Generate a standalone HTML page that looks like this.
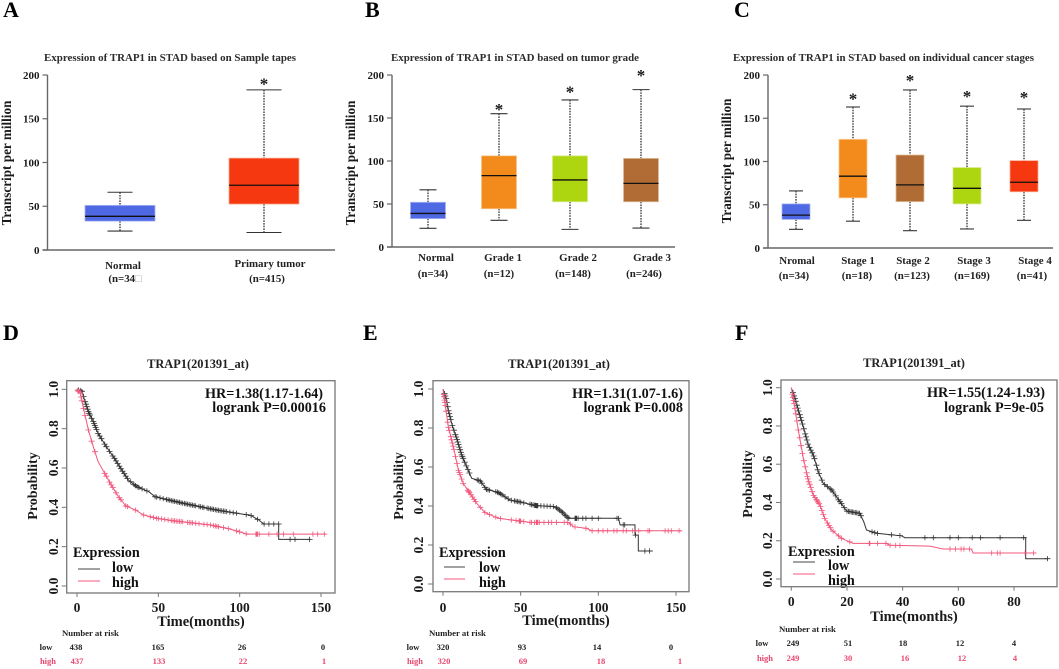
<!DOCTYPE html>
<html lang="en">
<head>
<meta charset="utf-8">
<title>TRAP1 expression and survival in STAD</title>
<style>
html,body{margin:0;padding:0;background:#fff;}
svg{display:block;filter:blur(0.3px);}
text{font-family:"Liberation Serif","Noto Serif CJK SC",serif;font-weight:bold;fill:#1a1a1a;}
.letter{font-size:22px;fill:#000;}
.ptitle{font-size:10.4px;fill:#2c2c2c;}
.ytitle{font-size:13.2px;}
.cat{font-size:10.9px;text-anchor:middle;fill:#222;}
.kmtitle{font-size:12.4px;text-anchor:middle;fill:#222;}
.hr{font-size:14.2px;text-anchor:end;fill:#111;}
.prob{font-size:14px;text-anchor:middle;}
.time{font-size:14.5px;text-anchor:middle;}
.leg{font-size:14.2px;fill:#111;}
.riskhead{font-size:8.7px;fill:#222;}
.risk{font-size:8.5px;text-anchor:middle;fill:#222;}
.riskh{font-size:8.5px;text-anchor:middle;fill:#e9476f;}
</style>
</head>
<body>
<svg id="figure" xmlns="http://www.w3.org/2000/svg" width="1059" height="669" viewBox="0 0 1059 669">
<rect width="1059" height="669" fill="#fff"/>

<text class="letter" x="3" y="17">A</text>
<text class="letter" x="365" y="17">B</text>
<text class="letter" x="734" y="17">C</text>
<text class="letter" x="3" y="340">D</text>
<text class="letter" x="363" y="340">E</text>
<text class="letter" x="735" y="340">F</text>

<text class="ptitle" x="44" y="61" textLength="252" lengthAdjust="spacingAndGlyphs">Expression of TRAP1 in STAD based on Sample tapes</text>
<text class="ptitle" x="391" y="61" textLength="248" lengthAdjust="spacingAndGlyphs">Expression of TRAP1 in STAD based on tumor grade</text>
<text class="ptitle" x="733" y="61" textLength="301" lengthAdjust="spacingAndGlyphs">Expression of TRAP1 in STAD based on individual cancer stages</text>

<text class="ytitle" transform="translate(11,163) rotate(-90)" text-anchor="middle">Transcript per million</text>
<text class="ytitle" transform="translate(355,163) rotate(-90)" text-anchor="middle">Transcript per million</text>
<text class="ytitle" transform="translate(731,161) rotate(-90)" text-anchor="middle">Transcript per million</text>

<g>
<text class="cat" x="123" y="269">Normal</text>
<text class="cat" x="125" y="282">(n=34<tspan fill="#aaa">□</tspan></text>
<text class="cat" x="270" y="267">Primary tumor</text>
<text class="cat" x="267" y="282">(n=415)</text>
</g>
<g>
<text class="cat" x="436" y="261">Normal</text>
<text class="cat" x="503" y="261">Grade 1</text>
<text class="cat" x="578" y="261">Grade 2</text>
<text class="cat" x="652" y="261">Grade 3</text>
<text class="cat" x="433" y="277">(n=34)</text>
<text class="cat" x="499" y="277">(n=12)</text>
<text class="cat" x="573" y="277">(n=148)</text>
<text class="cat" x="644" y="277">(n=246)</text>
</g>
<g>
<text class="cat" x="797" y="264">Nromal</text>
<text class="cat" x="858" y="264">Stage 1</text>
<text class="cat" x="913" y="264">Stage 2</text>
<text class="cat" x="974" y="264">Stage 3</text>
<text class="cat" x="1035" y="264">Stage 4</text>
<text class="cat" x="794" y="279">(n=34)</text>
<text class="cat" x="857" y="279">(n=18)</text>
<text class="cat" x="912" y="279">(n=123)</text>
<text class="cat" x="972" y="279">(n=169)</text>
<text class="cat" x="1032" y="279">(n=41)</text>
</g>

<g>
<text class="kmtitle" x="198" y="368">TRAP1(201391_at)</text>
<text class="hr" x="323" y="398">HR=1.38(1.17-1.64)</text>
<text class="hr" x="326" y="412">logrank P=0.00016</text>
<text class="prob" transform="translate(37,486) rotate(-90)">Probability</text>
<text class="time" x="201" y="626">Time(months)</text>
<text class="leg" x="73" y="557">Expression</text>
<text class="leg" x="112" y="572">low</text>
<text class="leg" x="112" y="587">high</text>
<text class="riskhead" x="62" y="636">Number at risk</text>
<text class="risk" x="46" y="650">low</text>
<text class="risk" x="76" y="650">438</text>
<text class="risk" x="158" y="650">165</text>
<text class="risk" x="242" y="650">26</text>
<text class="risk" x="323" y="650">0</text>
<text class="riskh" x="48" y="664">high</text>
<text class="riskh" x="77" y="664">437</text>
<text class="riskh" x="159" y="664">133</text>
<text class="riskh" x="243" y="664">22</text>
<text class="riskh" x="324" y="664">1</text>
</g>
<g>
<text class="kmtitle" x="559" y="368">TRAP1(201391_at)</text>
<text class="hr" x="683" y="398">HR=1.31(1.07-1.6)</text>
<text class="hr" x="683" y="412">logrank P=0.008</text>
<text class="prob" transform="translate(403,486) rotate(-90)">Probability</text>
<text class="time" x="566" y="625">Time(months)</text>
<text class="leg" x="439" y="557">Expression</text>
<text class="leg" x="479" y="572">low</text>
<text class="leg" x="479" y="587">high</text>
<text class="riskhead" x="429" y="636">Number at risk</text>
<text class="risk" x="413" y="650">low</text>
<text class="risk" x="443" y="650">320</text>
<text class="risk" x="522" y="650">93</text>
<text class="risk" x="597" y="650">14</text>
<text class="risk" x="671" y="650">0</text>
<text class="riskh" x="415" y="664">high</text>
<text class="riskh" x="444" y="664">320</text>
<text class="riskh" x="523" y="664">69</text>
<text class="riskh" x="601" y="664">18</text>
<text class="riskh" x="680" y="664">1</text>
</g>
<g>
<text class="kmtitle" x="914" y="367">TRAP1(201391_at)</text>
<text class="hr" x="1045" y="397">HR=1.55(1.24-1.93)</text>
<text class="hr" x="1044" y="412">logrank P=9e-05</text>
<text class="prob" transform="translate(752,484) rotate(-90)">Probability</text>
<text class="time" x="914" y="621">Time(months)</text>
<text class="leg" x="788" y="556">Expression</text>
<text class="leg" x="828" y="570">low</text>
<text class="leg" x="828" y="585">high</text>
<text class="riskhead" x="779" y="632">Number at risk</text>
<text class="risk" x="762" y="646">low</text>
<text class="risk" x="793" y="646">249</text>
<text class="risk" x="848" y="646">51</text>
<text class="risk" x="903" y="646">18</text>
<text class="risk" x="960" y="646">12</text>
<text class="risk" x="1014" y="646">4</text>
<text class="riskh" x="765" y="661">high</text>
<text class="riskh" x="793" y="661">249</text>
<text class="riskh" x="848" y="661">30</text>
<text class="riskh" x="905" y="661">16</text>
<text class="riskh" x="962" y="661">12</text>
<text class="riskh" x="1015" y="661">4</text>
</g>
</svg>

<script>
const boxTicks = [0, 50, 100, 150, 200];

const aCategories = ["Normal", "Primary tumor"];
const aMin = [21.7, 20];
const aQ1 = [33, 52.5];
const aMedian = [38.5, 74];
const aQ3 = [51, 105];
const aMax = [66, 183];
const aStars = [null, 192];

const bCategories = ["Normal", "Grade 1", "Grade 2", "Grade 3"];
const bMin = [21.7, 31, 20.5, 22];
const bQ1 = [33, 44.5, 52.6, 52.6];
const bMedian = [39, 83, 78, 74];
const bQ3 = [52, 106, 106, 103];
const bMax = [66.5, 155, 171, 183];
const bStars = [null, 162.5, 182.6, 202];

const cCategories = ["Normal", "Stage 1", "Stage 2", "Stage 3", "Stage 4"];
const cMin = [21.6, 31, 20, 22, 32];
const cQ1 = [33, 58, 53.6, 51, 65];
const cMedian = [38, 83, 73, 69, 76];
const cQ3 = [51, 125.6, 107.5, 93, 101];
const cMax = [66, 163, 182.7, 164, 160.7];
const cStars = [null, 174.6, 195.8, 177.6, 176.5];

const survTicks = [0, 0.2, 0.4, 0.6, 0.8, 1];
const survTickLabels = ["0.0", "0.2", "0.4", "0.6", "0.8", "1.0"];
const dTimeTicks = [0, 50, 100, 150];
const eTimeTicks = [0, 50, 100, 150];
const fTimeTicks = [0, 20, 40, 60, 80];

const dLowT = [0,3,5,7,10,13,18,23,27.5,31.6,36.8,44,48,55,65.5,75.7,86,98,106.6,111.7,114.8,124,124,143.5];
const dLowS = [1,.99,.937,.886,.836,.776,.708,.649,.59,.539,.505,.48,.454,.44,.42,.403,.386,.37,.36,.336,.315,.315,.237,.237];
const dHighT = [0,2,4,7,10,13,17,21,25.5,30,36,41,49,59,69.6,82,94,100,104.5,153];
const dHighS = [1,.98,.903,.793,.708,.632,.573,.514,.454,.407,.386,.361,.344,.332,.322,.31,.29,.275,.264,.264];
const dLowCensor = [1,2,3,4,5,5.5,6,6.5,7,7.5,8,9,10,10.5,11,11.5,12,13,14,15,17,18,20,22,23,24,25,26,27,28,29,30,31,33,35,36,37,38,40,43,48,49,51,53,55,56,57,58,59,60,61,62,63,64,65,66,67,68,69,70,71,72,73,75,76,77,78,80,81,82,83,84,85,86,87,88,89,90,91,92,94,96,98,104,107,111,115,118,121,124,131,134,143];
const dHighCensor = [.5,1,2,2.5,3,4,5,7,9,11,17,18,20,21,22,24,26,27,30,31,36,41,45,47,49,50,52,54,56,58,59,60,61,62,63,64,65,68,69,70,71,73,75,78,80,82,84,85,86,87,90,93,98,100,104,110,110.5,111,112,118,123,127,133,145,148,152];

const eLowT = [0,2,3.4,6.2,8.8,12,15.2,18.5,23.8,28,35.6,43,51.7,60,72,76.4,80.7,113,114,123.6,123.6,125.7,125.7,135];
const eLowS = [1,.952,.892,.807,.747,.662,.602,.542,.53,.485,.47,.431,.417,.402,.397,.371,.337,.337,.303,.303,.251,.251,.169,.169];
const eHighT = [0,1.3,3.4,6.6,9.9,13,17.4,21.7,27,35.6,47.4,56,80.7,84,92.5,95.7,153.6];
const eHighS = [1,.926,.807,.704,.585,.516,.465,.414,.366,.337,.325,.316,.316,.294,.285,.273,.273];
const eLowCensor = [1,1.5,2,2.5,3,3.5,4,4.5,5,6,7,8,8.5,9,9.5,10,10.5,11,11.5,12,12.5,13,14,15,16,17,22,23,24,25,27,28,29,30,34,35,36,37,38,40,42,44,46,47,48,49,50,52,56,57,58,59,59.5,60,60.5,61,63,65,67,69,71,73,74,75,76,77,78,79,80,81,85,85.5,86,87,90,92,96,100,112,113,116,117,124,130,133];
const eHighCensor = [.5,.7,1,1.2,1.5,2,3,3.5,4,5,5.5,6,6.5,7,8,9,10,10.5,11,12,13,16,16.5,17,18,19,20,21,24,27,30,34,37,44,47,49,49.5,50,52,56,57,59,60,60.5,61,62,65,68,70,73,78,80,82,85,92,96,100,103,106,110,112,116,118,122,126,132,133,143,145,147,152];

const fLowT = [0,1.3,2.5,4.3,6.1,7.9,9.7,11.5,14.5,17.5,19.9,24.6,26,27,30.6,39.6,40.8,84.2,84.2,92.2];
const fLowS = [1,.944,.883,.796,.7,.648,.561,.5,.465,.404,.355,.343,.3,.256,.239,.226,.216,.216,.106,.106];
const fHighT = [0,1.3,2.5,4.3,6.1,7.9,10.3,12,14.5,18,22.2,34.2,35.4,49.8,54.5,64.7,65.3,88];
const fHighS = [1,.892,.779,.631,.517,.439,.387,.317,.256,.213,.186,.186,.176,.172,.157,.157,.136,.136];
const fLowCensor = [.6,1,1.3,1.6,2,2.3,2.6,3,3.3,3.6,4,4.5,5,5.3,5.6,6,6.5,7,7.5,8,8.3,9,9.5,10,11,12,13,14,14.5,15,16,17,17.5,18,19,20,20.5,21,21.5,22,22.5,23,23.5,24,24.5,25,29,30,31,36,39,48,51,57,60,65,68,75,83.5,92];
const fHighCensor = [.4,.6,.8,1,1.3,1.6,2,2.5,3,3.5,4,4.5,5,5.5,5.8,6,6.3,6.6,7,7.5,8,8.5,9,9.3,9.6,10,10.5,11,11.5,12,13,13.5,14,15,17,18,21,28,28.2,31,34,35.5,37.5,39,57,59,61,62,64,72,74,75,84,87];

const NS = "http://www.w3.org/2000/svg";
const figure = document.getElementById("figure");

function mk(tag, attrs, parent) {
  const node = document.createElementNS(NS, tag);
  for (const k in attrs) node.setAttribute(k, attrs[k]);
  parent.appendChild(node);
  return node;
}

function drawBoxPanel(panel, g, categories, mins, q1s, medians, q3s, maxs, stars) {
  const root = mk("g", {}, figure);
  
  
  const yScale = v => g.y0 + (g.yTop - g.y0) * v / 200;

  const yAxis = mk("line", {x1: g.axisX, x2: g.axisX, y1: g.yTop, y2: g.y0, stroke: "#666", "stroke-width": 1.4}, root);
  
  
  const xAxis = mk("line", {x1: g.axisX - 5, x2: g.axisEnd, y1: g.y0, y2: g.y0, stroke: "#666", "stroke-width": 1.4}, root);
  
  

  boxTicks.forEach(v => {
    const tick = mk("line", {x1: g.axisX - 5, x2: g.axisX, y1: yScale(v), y2: yScale(v), stroke: "#666", "stroke-width": 1.2}, root);
    
    
    const label = mk("text", {x: g.axisX - 8, y: yScale(v) + 3.8, "text-anchor": "end", "font-size": 11}, root);
    label.textContent = String(v);
    
    
  });

  categories.forEach((cat, i) => {
    const cx = g.xStart + g.xStep * i;
    const item = mk("g", {}, root);
    
    
    const capW = (i === 0 ? g.capSmall : g.capLarge) / 2;
    mk("line", {x1: cx, x2: cx, y1: yScale(maxs[i]), y2: yScale(q3s[i]), stroke: "#333", "stroke-width": 1.3, "stroke-dasharray": "1.6 1.1"}, item);
    mk("line", {x1: cx, x2: cx, y1: yScale(q1s[i]), y2: yScale(mins[i]), stroke: "#333", "stroke-width": 1.3, "stroke-dasharray": "1.6 1.1"}, item);
    mk("line", {x1: cx - capW, x2: cx + capW, y1: yScale(maxs[i]), y2: yScale(maxs[i]), stroke: "#333", "stroke-width": 1.1}, item);
    mk("line", {x1: cx - capW, x2: cx + capW, y1: yScale(mins[i]), y2: yScale(mins[i]), stroke: "#333", "stroke-width": 1.1}, item);
    mk("rect", {x: cx - g.boxW / 2, y: yScale(q3s[i]), width: g.boxW, height: yScale(q1s[i]) - yScale(q3s[i]), fill: g.colors[i], stroke: g.edges[i], "stroke-width": 0.8}, item);
    mk("line", {x1: cx - g.boxW / 2, x2: cx + g.boxW / 2, y1: yScale(medians[i]), y2: yScale(medians[i]), stroke: "#111", "stroke-width": 1.3}, item);
    if (stars[i] !== null) {
      const star = mk("text", {x: cx, y: yScale(stars[i]) + 7.5, "text-anchor": "middle", "font-size": 17}, item);
      star.textContent = "*";
      
      
    }
  });
}

function survivalAt(ts, ss, t) {
  for (let i = 1; i < ts.length; i++) {
    if (t <= ts[i]) {
      if (ts[i] === ts[i - 1]) return ss[i - 1];
      return ss[i - 1] + (ss[i] - ss[i - 1]) * (t - ts[i - 1]) / (ts[i] - ts[i - 1]);
    }
  }
  return ss[ss.length - 1];
}

function drawSeries(root, name, color, lineW, ts, ss, censor, xScale, yScale) {
  const group = mk("g", {}, root);
  
  
  const points = ts.map((t, i) => xScale(t).toFixed(1) + "," + yScale(ss[i]).toFixed(1)).join(" ");
  mk("polyline", {points: points, fill: "none", stroke: color, "stroke-width": lineW}, group);
  let d = "";
  censor.forEach(t => {
    const x = xScale(t), y = yScale(survivalAt(ts, ss, t));
    d += "M" + (x - 3).toFixed(1) + " " + y.toFixed(1) + "h6M" + x.toFixed(1) + " " + (y - 2.6).toFixed(1) + "v5.2";
  });
  const marks = mk("path", {d: d, fill: "none", stroke: color, "stroke-width": 0.8}, group);
  
  
}

function drawKm(panel, g, timeTicks, lowT, lowS, lowC, highT, highS, highC) {
  const root = mk("g", {}, figure);
  
  
  const xScale = t => g.x0 + (g.xEnd - g.x0) * t / g.tEnd;
  const yScale = s => g.y0 + (g.y1 - g.y0) * s;

  const frame = mk("rect", {x: g.left, y: g.top, width: g.right - g.left, height: g.bottom - g.top, fill: "none", stroke: "#777", "stroke-width": 1.3}, root);
  
  

  survTicks.forEach((s, i) => {
    const tick = mk("line", {x1: g.left - 5, x2: g.left, y1: yScale(s), y2: yScale(s), stroke: "#777", "stroke-width": 1}, root);
    
    
    const label = mk("text", {transform: "translate(" + g.yLabelX + "," + yScale(s) + ") rotate(-90)", "text-anchor": "middle", "font-size": 13.5}, root);
    label.textContent = survTickLabels[i];
    
    
  });
  timeTicks.forEach(t => {
    const tick = mk("line", {x1: xScale(t), x2: xScale(t), y1: g.bottom, y2: g.bottom + 4, stroke: "#777", "stroke-width": 1}, root);
    
    
    const label = mk("text", {x: xScale(t), y: g.xLabelY, "text-anchor": "middle", "font-size": 13.5}, root);
    label.textContent = String(t);
    
    
  });

  drawSeries(root, 'low', "#333", 1, lowT, lowS, lowC, xScale, yScale);
  drawSeries(root, 'high', "#f0587c", 1, highT, highS, highC, xScale, yScale);

  const legLow = mk("line", {x1: g.legX1, x2: g.legX2, y1: g.legLowY, y2: g.legLowY, stroke: "#444", "stroke-width": 0.9}, root);
  
  
  const legHigh = mk("line", {x1: g.legX1, x2: g.legX2, y1: g.legHighY, y2: g.legHighY, stroke: "#f0587c", "stroke-width": 0.9}, root);
  
  
}

drawBoxPanel('panel-a', {axisX: 47.5, axisEnd: 335, y0: 250, yTop: 75, xStart: 120, xStep: 144, boxW: 70, capSmall: 25, capLarge: 35,
  colors: ["#4f68e3", "#f5380f"], edges: ["#a9b6f2", "#fbaa90"]},
  aCategories, aMin, aQ1, aMedian, aQ3, aMax, aStars);

drawBoxPanel('panel-b', {axisX: 392, axisEnd: 675, y0: 247, yTop: 75, xStart: 428, xStep: 71, boxW: 35, capSmall: 17, capLarge: 17,
  colors: ["#4f68e3", "#f28a1c", "#aed610", "#b06c34"], edges: ["#a9b6f2", "#f9c48c", "#d5ea88", "#e0bc98"]},
  bCategories, bMin, bQ1, bMedian, bQ3, bMax, bStars);

drawBoxPanel('panel-c', {axisX: 768, axisEnd: 1053, y0: 248, yTop: 75, xStart: 796, xStep: 57, boxW: 28, capSmall: 14, capLarge: 14,
  colors: ["#4f68e3", "#f28a1c", "#b06c34", "#aed610", "#f5380f"], edges: ["#a9b6f2", "#f9c48c", "#e0bc98", "#d5ea88", "#fbaa90"]},
  cCategories, cMin, cQ1, cMedian, cQ3, cMax, cStars);

drawKm('panel-d', {left: 66.7, right: 335, top: 380.7, bottom: 593, x0: 77, xEnd: 321, tEnd: 150, y0: 586, y1: 389.3,
  yLabelX: 58, xLabelY: 612, legX1: 78, legX2: 100, legLowY: 569, legHighY: 581},
  dTimeTicks, dLowT, dLowS, dLowCensor, dHighT, dHighS, dHighCensor);

drawKm('panel-e', {left: 433, right: 689, top: 380.7, bottom: 591.7, x0: 443, xEnd: 676, tEnd: 150, y0: 584, y1: 389,
  yLabelX: 423, xLabelY: 612, legX1: 444, legX2: 465, legLowY: 567, legHighY: 579},
  eTimeTicks, eLowT, eLowS, eLowCensor, eHighT, eHighS, eHighCensor);

drawKm('panel-f', {left: 781, right: 1057, top: 380, bottom: 586.7, x0: 791.3, xEnd: 1014, tEnd: 80, y0: 579, y1: 387.7,
  yLabelX: 772, xLabelY: 606, legX1: 793, legX2: 815, legLowY: 562, legHighY: 574},
  fTimeTicks, fLowT, fLowS, fLowCensor, fHighT, fHighS, fHighCensor);
</script>
</body>
</html>
